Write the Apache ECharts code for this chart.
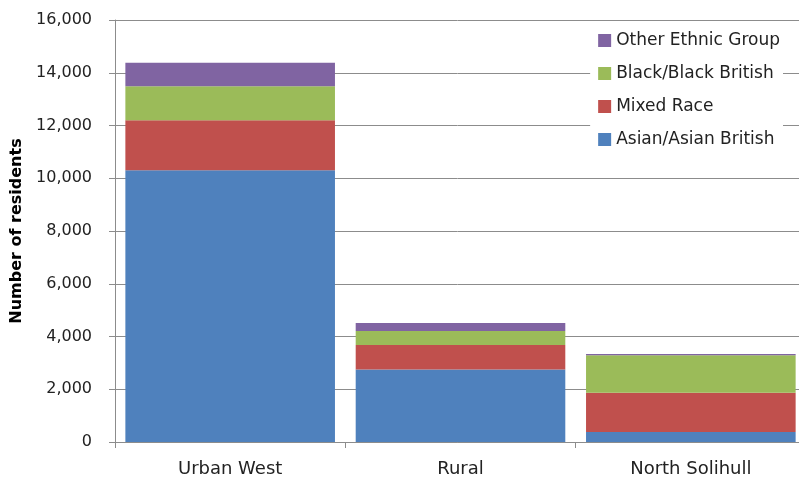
<!DOCTYPE html>
<html>
<head>
<meta charset="utf-8">
<script src="https://cdn.jsdelivr.net/npm/echarts@6/dist/echarts.min.js"></script>
<style>
  html, body { margin: 0; padding: 0; background: #fff; }
  #chart { width: 799px; height: 483px; }
</style>
</head>
<body>
<div id="chart"></div>
<script>
// areas along the x axis
const areas = ['Urban West', 'Rural', 'North Solihull'];

// residents per group
const asianBritish = [10300, 2750, 380];
const mixedRace = [1900, 930, 1490];
const blackBritish = [1290, 530, 1420];
const otherGroup = [890, 300, 50];

const yTicks = { min: 0, max: 16000, interval: 2000 };

const font = 'DejaVu Sans, Verdana, sans-serif';

var myChart = echarts.init(document.getElementById('chart'));

const makeSeries = (name, data, color) => ({
    name: name,
    type: 'bar',
    stack: 'total',
    data: data,
    barCategoryGap: '9%',
    itemStyle: { color: color },
    emphasis: { disabled: true }
});

var option = {
    animation: false,
    // the plot runs a little past the right edge in the original
    grid: { left: 115, width: 691, top: 20, bottom: 41, containLabel: false, outerBoundsMode: 'none' },
    legend: {
        orient: 'vertical',
        right: 16,
        top: 30,
        backgroundColor: '#fff',
        padding: [2, 3, 4, 8],
        itemWidth: 13,
        itemHeight: 13,
        itemGap: 16,
        icon: 'rect',
        textStyle: { fontFamily: font, fontSize: 17, color: '#222' },
        data: ['Other Ethnic Group', 'Black/Black British', 'Mixed Race', 'Asian/Asian British']
    },
    xAxis: {
        type: 'category',
        data: areas,
        axisLine: { lineStyle: { color: '#8c8c8c', width: 1 } },
        axisTick: { show: true, alignWithLabel: false, length: 6, lineStyle: { color: '#8c8c8c' } },
        axisLabel: { fontFamily: font, fontSize: 18, color: '#222', margin: 18 }
    },
    yAxis: {
        type: 'value',
        min: yTicks.min,
        max: yTicks.max,
        interval: yTicks.interval,
        name: 'Number of residents',
        nameLocation: 'middle',
        nameGap: 88,
        nameTextStyle: { fontFamily: font, fontSize: 16, fontWeight: 'bold', color: '#000' },
        axisLine: { show: true, lineStyle: { color: '#8c8c8c', width: 1 } },
        axisTick: { show: true, length: 6, lineStyle: { color: '#8c8c8c' } },
        splitLine: { lineStyle: { color: '#8c8c8c', width: 1 } },
        axisLabel: {
            fontFamily: font, fontSize: 16, color: '#222', margin: 23,
            formatter: v => v.toLocaleString('en-US')
        }
    },
    series: [
        makeSeries('Asian/Asian British', asianBritish, '#4f81bd'),
        makeSeries('Mixed Race', mixedRace, '#c0504d'),
        makeSeries('Black/Black British', blackBritish, '#9bbb59'),
        makeSeries('Other Ethnic Group', otherGroup, '#8064a2')
    ]
};

myChart.setOption(option);
</script>
</body>
</html>
